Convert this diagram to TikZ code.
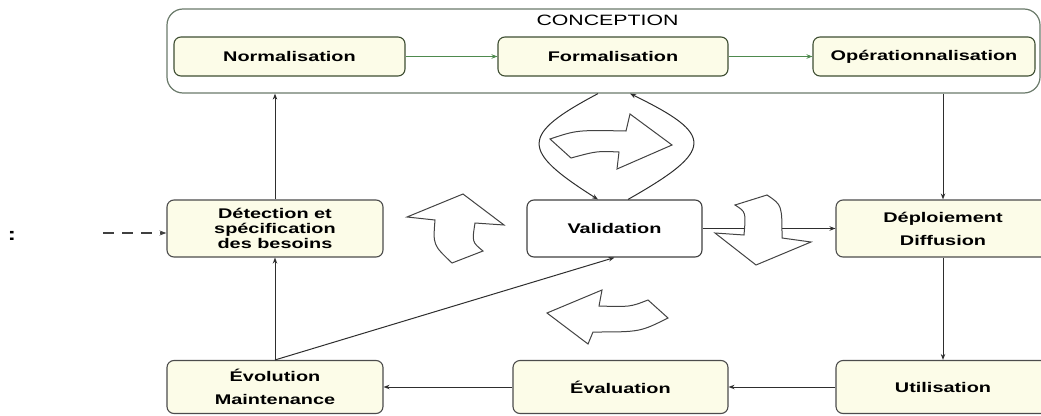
\documentclass[tikz,border=0pt]{standalone}
\usepackage{fontspec}
\setmainfont[FakeStretch=1.42]{Liberation Sans}
\usetikzlibrary{arrows.meta}
\definecolor{boxfill}{HTML}{FCFCE8}
\definecolor{greenline}{HTML}{4E8A4E}
\definecolor{boxedge}{HTML}{3E4E32}
\definecolor{outeredge}{HTML}{6A7A6A}
\definecolor{lineclr}{HTML}{2E2E2E}
\tikzset{
  stagebox/.style={draw=boxedge, fill=boxfill, rounded corners=7pt, line width=1.1pt,
    inner sep=0pt, align=center, font=\fontsize{14}{15}\selectfont\bfseries},
  outerbox/.style={draw=outeredge, rounded corners=16pt, line width=1.2pt, inner sep=0pt},
  conn/.style={draw=lineclr, line width=1pt, -{Stealth[length=6pt,width=4.5pt]}},
  gconn/.style={draw=greenline, line width=1.3pt, -{Stealth[length=6pt,width=4.5pt,fill=black]}},
  blockarrow/.style={draw=lineclr!90, fill=white, line width=1pt, line join=miter},
}
\begin{document}
\begin{tikzpicture}[x=1pt,y=-1pt]
\useasboundingbox (0,0) rectangle (1041,415);
% outer conception box
\node[outerbox, minimum width=873pt, minimum height=84pt] (conc) at (603.5,51) {};
\node[font=\fontsize{15}{16}\selectfont] (conctitle) at (607.5,20.5) {CONCEPTION};
% conception stages
\node[stagebox, minimum width=231pt, minimum height=39pt] (norm) at (289.5,56.5) {Normalisation};
\node[stagebox, minimum width=230pt, minimum height=39pt] (form) at (613,56.5) {Formalisation};
\node[stagebox, minimum width=222pt, minimum height=39pt] (oper) at (924,56.5) {Opérationnalisation};
% middle row
\node[stagebox, draw=black!70, minimum width=216pt, minimum height=57pt] (detect) at (275,228.5) {Détection et\\spécification\\des besoins};
\node[stagebox, draw=black!75, fill=white, minimum width=175pt, minimum height=57pt] (valid) at (614.5,228.5) {Validation};
\node[stagebox, draw=black!70, minimum width=214pt, minimum height=57pt] (deploy) at (943,228.5) {Déploiement\\[8pt]Diffusion};
% bottom row
\node[stagebox, draw=black!70, minimum width=216pt, minimum height=53pt] (evol) at (275,387) {Évolution\\[8pt]Maintenance};
\node[stagebox, draw=black!70, minimum width=215pt, minimum height=53pt] (eval) at (620.5,387) {Évaluation};
\node[stagebox, draw=black!70, minimum width=214pt, minimum height=53pt] (util) at (943,387) {Utilisation};
% colon and incoming dashed arrow
\node[font=\fontsize{18}{19}\selectfont\bfseries] (colon) at (12,236) {:};
\coordinate (incoming) at (103,233);
\draw[draw=black!75, line width=1.8pt, dash pattern=on 11pt off 8pt, -{Stealth[length=7pt,width=5pt]}] (incoming) -- (incoming -| detect.west);
% green connectors
\draw[gconn] (norm.east) -- (form.west);
\draw[gconn] (form.east) -- (oper.west);
% main connectors
\draw[conn] (detect.north) -- (detect.north |- conc.south);
\draw[conn] (evol.north) -- (detect.south);
\draw[conn] (evol.north) -- (valid.south);
\draw[conn] (valid.east) -- (deploy.west);
\draw[conn] (deploy.north |- conc.south) -- (deploy.north);
\draw[conn] (deploy.south) -- (util.north);
\draw[conn] (util.west) -- (eval.east);
\draw[conn] (eval.west) -- (evol.east);
% loops between conception and validation
\draw[conn] ([xshift=-5.5pt]conc.south) .. controls (520,135) and (520,150) .. ([xshift=-16.5pt]valid.north);
\draw[conn] ([xshift=13.5pt]valid.north) .. controls (715,150) and (715,135) .. ([xshift=26.5pt]conc.south);
% block arrows
\path[blockarrow] (550,139) .. controls (577,130) .. (626,131) -- (630,114) -- (672,145) -- (617,169) -- (619,152) .. controls (597,151) .. (571,158) -- cycle;
\path[blockarrow] (735,205) -- (767,195) .. controls (782,205) .. (782,238) -- (811,242) -- (756,265) -- (715,233) -- (744,235) .. controls (746,212) .. (735,205) -- cycle;
\path[blockarrow] (407,217) -- (463,194) -- (504,225) -- (475,223) .. controls (472,242) .. (483,251) -- (452,263) .. controls (433,245) .. (435,220) -- cycle;
\path[blockarrow] (547,313) -- (602,290) -- (599,306) .. controls (630,307) .. (648,300) -- (668,318) .. controls (640,332) .. (593,332) -- (588,344) -- cycle;
\end{tikzpicture}
\end{document}
